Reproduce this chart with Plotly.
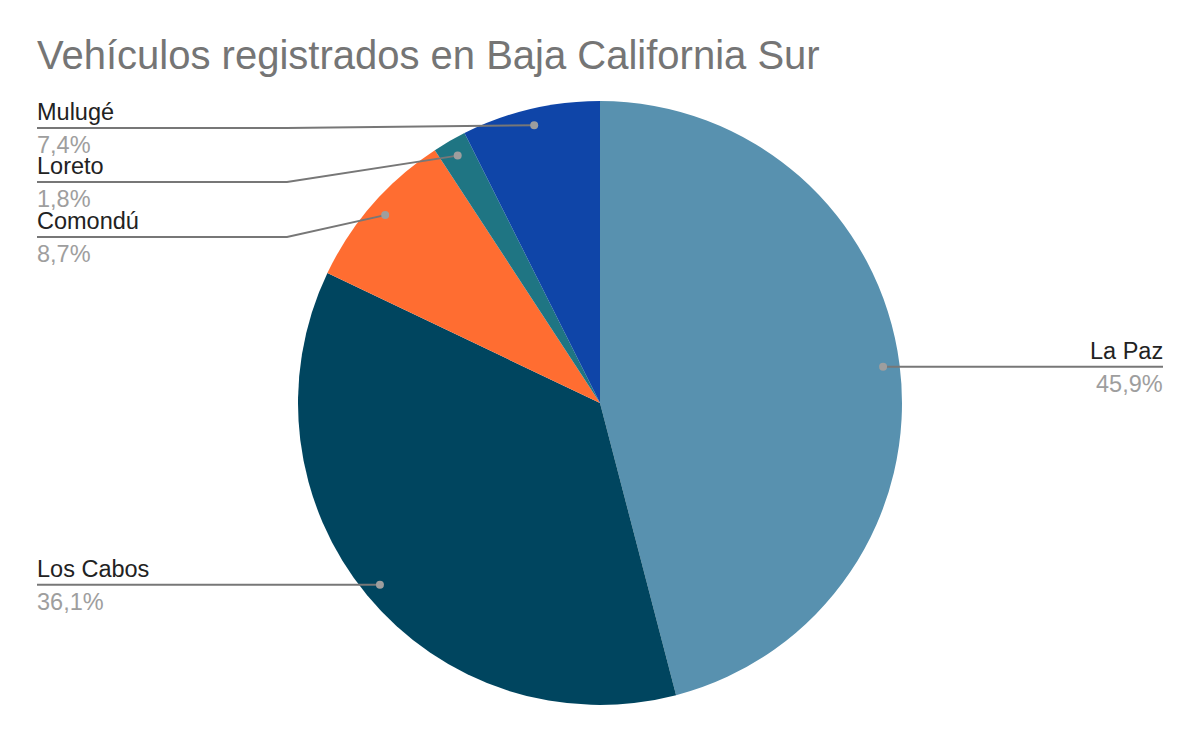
import math
import plotly.graph_objects as go

# ---- data ----
municipios = ["La Paz", "Los Cabos", "Comondú", "Loreto", "Mulugé"]
porcentajes = [45.9, 36.1, 8.7, 1.8, 7.4]
colores = ["#5891af", "#00455f", "#ff6d31", "#1f7583", "#0f45a8"]
titulo = "Vehículos registrados en Baja California Sur"

# ---- layout constants (pixels) ----
W, H = 1200, 742
CX, CY, R = 600, 403, 302
DOT_R = 0.945 * R
LEFT_X, RIGHT_X, BEND_X = 37, 1163, 287
TEXT_PAD = 2
FONT = "Liberation Sans, Arial, sans-serif"
LINE_C, DOT_C = "#777777", "#9e9e9e"

fig = go.Figure()

fig.add_trace(go.Pie(
    labels=municipios, values=porcentajes,
    marker=dict(colors=colores, line=dict(width=0)),
    sort=False, direction="clockwise", rotation=0,
    textinfo="none", hoverinfo="label+percent", showlegend=False,
    domain=dict(x=[(CX - R) / W, (CX + R) / W],
                y=[1 - (CY + R) / H, 1 - (CY - R) / H]),
))
# invisible trace to activate the pixel-based cartesian axes
fig.add_trace(go.Scatter(x=[0, W], y=[0, H], mode="markers",
                         marker=dict(opacity=0), hoverinfo="skip",
                         showlegend=False))

total = sum(porcentajes)
cum = 0.0
# label line y-positions for the stacked left-top labels (layout)
stack_y = {"Mulugé": 128, "Loreto": 182, "Comondú": 237}

annotations, shapes = [], []
for name, v in zip(municipios, porcentajes):
    mid = (cum + v / 2) / total * 2 * math.pi
    cum += v
    dx = CX + DOT_R * math.sin(mid)
    dy = CY - DOT_R * math.cos(mid)
    pct = f"{v / total * 100:.1f}".replace(".", ",") + "%"
    if name in stack_y:
        ly = stack_y[name]
        pts = [(LEFT_X, ly), (BEND_X, ly), (dx, dy)]
        tx, anchor = LEFT_X - TEXT_PAD, "left"
    elif dx > CX:
        ly = dy
        pts = [(dx, ly), (RIGHT_X, ly)]
        tx, anchor = RIGHT_X + TEXT_PAD, "right"
    else:
        ly = dy
        pts = [(LEFT_X, ly), (dx, ly)]
        tx, anchor = LEFT_X - TEXT_PAD, "left"
    path = "M " + " L ".join(f"{px:.2f},{py:.2f}" for px, py in pts)
    shapes.append(dict(type="path", path=path, xref="x", yref="y",
                       line=dict(color=LINE_C, width=2), layer="above"))
    shapes.append(dict(type="circle", xref="x", yref="y",
                       x0=dx - 4, x1=dx + 4, y0=dy - 4, y1=dy + 4,
                       fillcolor=DOT_C, line=dict(width=0), layer="above"))
    annotations.append(dict(x=tx, y=ly - 16, xref="x", yref="y", text=name,
                            showarrow=False, xanchor=anchor, yanchor="middle",
                            font=dict(family=FONT, size=23.5, color="#222222")))
    annotations.append(dict(x=tx, y=ly + 17, xref="x", yref="y", text=pct,
                            showarrow=False, xanchor=anchor, yanchor="middle",
                            font=dict(family=FONT, size=23.5, color="#9e9e9e")))

fig.update_layout(
    width=W, height=H,
    margin=dict(l=0, r=0, t=0, b=0),
    paper_bgcolor="white", plot_bgcolor="rgba(0,0,0,0)",
    title=dict(text=titulo, x=LEFT_X / W, xanchor="left",
               y=1 - 55 / H, yanchor="middle", xref="paper", yref="paper",
               font=dict(family=FONT, size=40, color="#757575")),
    xaxis=dict(range=[0, W], visible=False, domain=[0, 1], fixedrange=True),
    yaxis=dict(range=[H, 0], visible=False, domain=[0, 1], fixedrange=True),
    annotations=annotations,
    shapes=shapes,
)

fig.write_html("out.html", config={"displayModeBar": False},
               post_script="document.body.style.margin='0';")
